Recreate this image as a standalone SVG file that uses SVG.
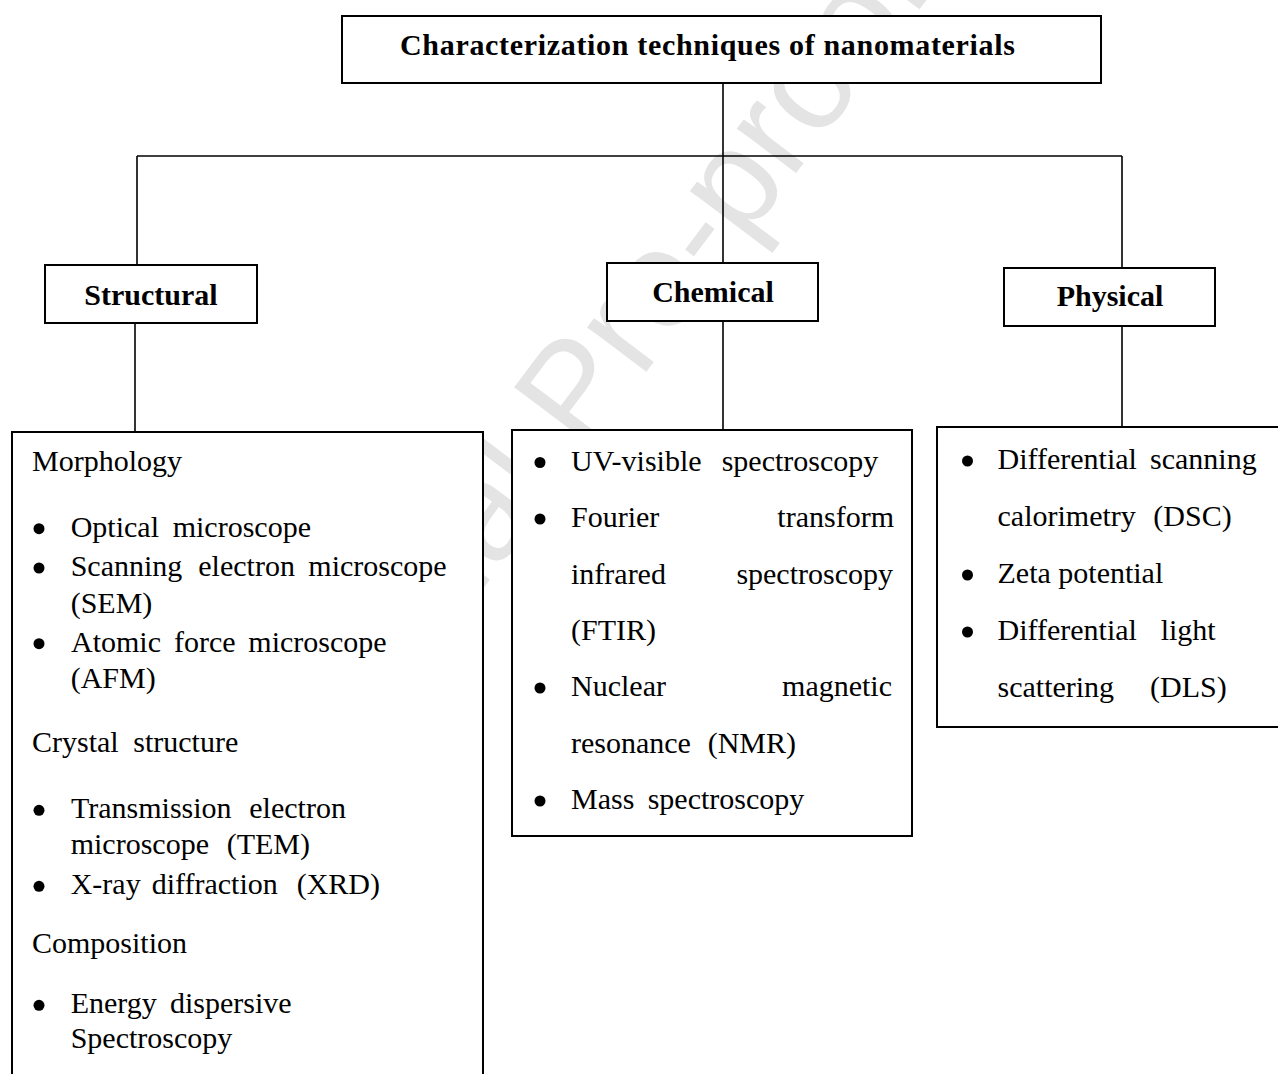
<svg xmlns="http://www.w3.org/2000/svg" width="1278" height="1074" viewBox="0 0 1278 1074">
<style>
  .box { fill: #ffffff; stroke: #000000; stroke-width: 2; }
  .conn { fill: none; stroke: #000000; stroke-width: 1.6; }
  .hd { font-family: "Liberation Serif", "Times New Roman", serif; font-weight: bold; font-size: 30px; fill: #000000; }
  .tx { font-family: "Liberation Serif", "Times New Roman", serif; font-size: 30px; fill: #000000; }
  .wm { font-family: "Liberation Sans", Arial, sans-serif; font-size: 140px; fill: #e4e4e4; }
  .bul { fill: #000000; }
</style>
<rect x="0" y="0" width="1278" height="1074" fill="#ffffff"/>

<g id="watermark">
  <text class="wm" transform="translate(610,420) rotate(-53)" text-anchor="middle">Journal Pre-proof</text>
</g>

<g id="connectors">
  <line class="conn" x1="723" y1="83" x2="723" y2="156"/>
  <line class="conn" x1="137" y1="156" x2="1122" y2="156"/>
  <line class="conn" x1="137" y1="156" x2="137" y2="265"/>
  <line class="conn" x1="723" y1="156" x2="723" y2="263"/>
  <line class="conn" x1="1122" y1="156" x2="1122" y2="268"/>
  <line class="conn" x1="135" y1="323" x2="135" y2="432"/>
  <line class="conn" x1="723" y1="321" x2="723" y2="430"/>
  <line class="conn" x1="1122" y1="326" x2="1122" y2="427"/>
</g>

<g id="root">
  <rect class="box" x="342" y="16" width="759" height="67"/>
  <text class="hd" x="400" y="55" font-size="31" textLength="615" lengthAdjust="spacing">Characterization  techniques of nanomaterials</text>
</g>

<g id="structural">
  <rect class="box" x="45" y="265" width="212" height="58"/>
  <text class="hd" x="151" y="305" text-anchor="middle">Structural</text>
</g>

<g id="chemical">
  <rect class="box" x="607" y="263" width="211" height="58"/>
  <text class="hd" x="713" y="302" text-anchor="middle">Chemical</text>
</g>

<g id="physical">
  <rect class="box" x="1004" y="268" width="211" height="58"/>
  <text class="hd" x="1110" y="306" text-anchor="middle">Physical</text>
</g>

<g id="structural-list">
  <rect class="box" x="12" y="432" width="471" height="660"/>
  <text class="tx" x="32" y="471">Morphology</text>
  <circle class="bul" cx="39" cy="528.7" r="5.5"/>
  <text class="tx" y="536.7"><tspan x="70.7">Optical</tspan><tspan x="172.7">microscope</tspan></text>
  <circle class="bul" cx="39" cy="568" r="5.5"/>
  <text class="tx" y="576"><tspan x="70.7">Scanning</tspan><tspan x="198.3">electron</tspan><tspan x="308.3">microscope</tspan></text>
  <text class="tx" x="70.7" y="612.7">(SEM)</text>
  <circle class="bul" cx="39" cy="643.7" r="5.5"/>
  <text class="tx" y="651.7"><tspan x="71">Atomic</tspan><tspan x="174">force</tspan><tspan x="248.3">microscope</tspan></text>
  <text class="tx" x="70.7" y="688.3">(AFM)</text>
  <text class="tx" y="752.3"><tspan x="32">Crystal</tspan><tspan x="133.3">structure</tspan></text>
  <circle class="bul" cx="39" cy="810.3" r="5.5"/>
  <text class="tx" y="818.3"><tspan x="71">Transmission</tspan><tspan x="249.3">electron</tspan></text>
  <text class="tx" y="854"><tspan x="70.7">microscope</tspan><tspan x="226.7">(TEM)</tspan></text>
  <circle class="bul" cx="39" cy="886.3" r="5.5"/>
  <text class="tx" y="894.3"><tspan x="70.7">X-ray</tspan><tspan x="151.7">diffraction</tspan><tspan x="296.7">(XRD)</tspan></text>
  <text class="tx" x="32" y="953.3">Composition</text>
  <circle class="bul" cx="39" cy="1005.3" r="5.5"/>
  <text class="tx" y="1013.3"><tspan x="70.7">Energy</tspan><tspan x="170">dispersive</tspan></text>
  <text class="tx" x="70.7" y="1048.3">Spectroscopy</text>
</g>

<g id="chemical-list">
  <rect class="box" x="512" y="430" width="400" height="406"/>
  <circle class="bul" cx="540" cy="462.5" r="5.5"/>
  <text class="tx" y="470.7"><tspan x="571">UV-visible</tspan><tspan x="721.7">spectroscopy</tspan></text>
  <circle class="bul" cx="540" cy="519" r="5.5"/>
  <text class="tx" x="571" y="527.3">Fourier</text>
  <text class="tx" x="894" y="527.3" text-anchor="end">transform</text>
  <text class="tx" x="571" y="583.7">infrared</text>
  <text class="tx" x="893" y="583.7" text-anchor="end">spectroscopy</text>
  <text class="tx" x="571" y="640">(FTIR)</text>
  <circle class="bul" cx="540" cy="688" r="5.5"/>
  <text class="tx" x="571" y="696.4">Nuclear</text>
  <text class="tx" x="892" y="696.4" text-anchor="end">magnetic</text>
  <text class="tx" y="752.7"><tspan x="571">resonance</tspan><tspan x="707.7">(NMR)</tspan></text>
  <circle class="bul" cx="540" cy="801" r="5.5"/>
  <text class="tx" y="809.3"><tspan x="571">Mass</tspan><tspan x="647.7">spectroscopy</tspan></text>
</g>

<g id="physical-list">
  <rect class="box" x="937" y="427" width="360" height="300"/>
  <circle class="bul" cx="967.5" cy="461" r="5.5"/>
  <text class="tx" y="469"><tspan x="997.5">Differential</tspan><tspan x="1150">scanning</tspan></text>
  <text class="tx" y="526"><tspan x="997.5">calorimetry</tspan><tspan x="1153.3">(DSC)</tspan></text>
  <circle class="bul" cx="967.5" cy="575" r="5.5"/>
  <text class="tx" x="997.5" y="583">Zeta potential</text>
  <circle class="bul" cx="967.5" cy="632" r="5.5"/>
  <text class="tx" y="640"><tspan x="997.5">Differential</tspan><tspan x="1160.7">light</tspan></text>
  <text class="tx" y="696.7"><tspan x="997.5">scattering</tspan><tspan x="1150">(DLS)</tspan></text>
</g>
</svg>
